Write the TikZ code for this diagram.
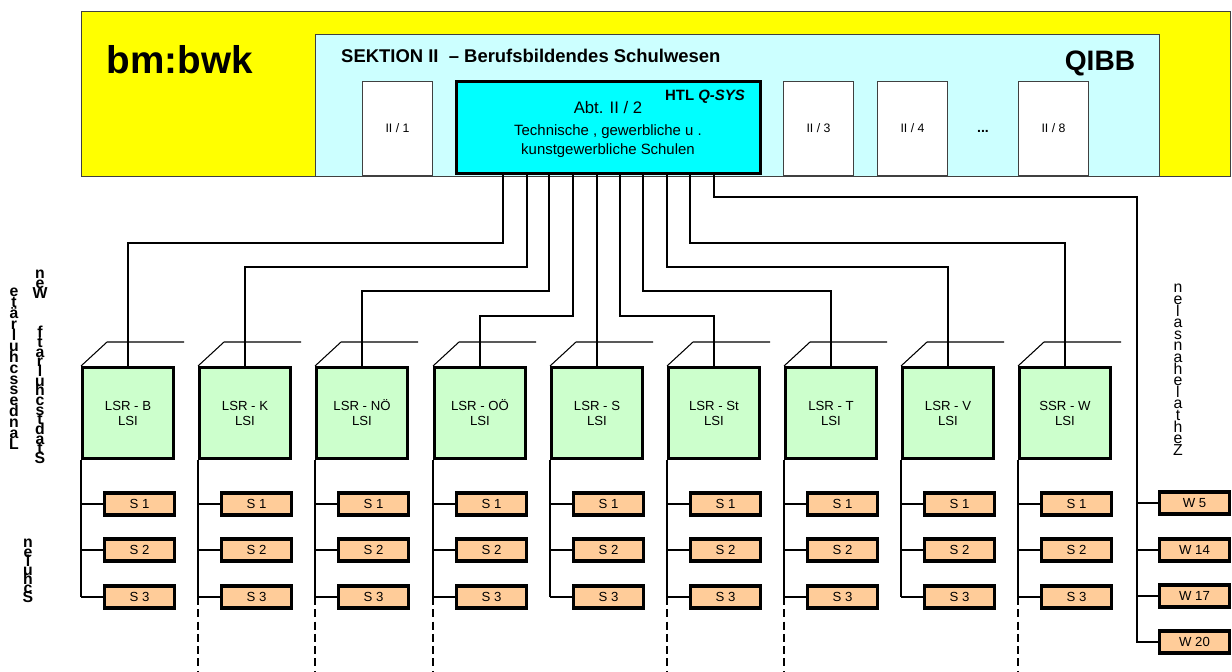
\documentclass[tikz,border=0pt]{standalone}
\usepackage{fontspec}
\setmainfont{Liberation Sans}
\definecolor{bmgelb}{RGB}{255,255,0}
\definecolor{sekhell}{RGB}{204,255,255}
\definecolor{abtcyan}{RGB}{0,255,255}
\definecolor{lsrgruen}{RGB}{204,255,204}
\definecolor{schulorange}{RGB}{255,204,153}
\setlength{\lineskiplimit}{-100pt}

\begin{document}
\begin{tikzpicture}[
    x=0.02cm, y=-0.02cm,
    wire/.style={line width=0.6pt},
    frame/.style={draw=black!75, line width=0.6pt, anchor=north west, inner sep=0pt},
    abteil/.style={frame, fill=white, minimum width=1.4cm, minimum height=1.88cm,
                   font=\fontsize{7}{8}\selectfont},
    lsr/.style={draw, fill=lsrgruen, line width=1.7pt, minimum width=1.82cm,
                minimum height=1.82cm, inner sep=0pt, align=center,
                font=\fontsize{7.5}{8.5}\selectfont},
    schule/.style={draw, fill=schulorange, line width=1.8pt, minimum width=1.4cm,
                   minimum height=0.44cm, inner sep=0pt, font=\fontsize{7.5}{9}\selectfont},
    vlabel/.style={align=center, inner sep=0pt, font=\fontsize{9}{#1}\selectfont\bfseries},
    zlabel/.style={align=center, inner sep=0pt, font=\fontsize{9}{#1}\selectfont}
]
\useasboundingbox (0,0) rectangle (1232,672);

% Ministerium und Sektion
\node[frame, fill=bmgelb, minimum width=22.98cm, minimum height=3.3cm] (bmbwk) at (81,11) {};
\node[frame, fill=sekhell, minimum width=16.88cm, minimum height=2.84cm] (sektion) at (315,34) {};
\node[font=\fontsize{22}{26}\selectfont\bfseries] (bmtitel) at (180,60) {bm:bwk};
\node[font=\fontsize{10.5}{12}\selectfont\bfseries, anchor=west] (sekttitel) at (335,56)
    {SEKTION II\ \ – Berufsbildendes Schulwesen};
\node[font=\fontsize{16}{19}\selectfont\bfseries] (qibb) at (1100,63) {QIBB};

% Abteilungen
\node[abteil] (ii1) at (362,81) {II / 1};
\node[abteil] (ii3) at (783,81) {II / 3};
\node[abteil] (ii4) at (877,81) {II / 4};
\node[font=\fontsize{8}{9}\selectfont\bfseries] (punkte) at (983,131) {...};
\node[abteil] (ii8) at (1018,81) {II / 8};

% Abt. II/2
\node[draw, fill=abtcyan, line width=1.8pt, anchor=north west, inner sep=0pt,
      minimum width=6.08cm, minimum height=1.84cm] (abt) at (455,80) {};
\node[font=\fontsize{9.5}{11}\selectfont] (abtnr) at (608,108) {Abt. II / 2};
\node[font=\fontsize{8.5}{10}\selectfont\bfseries] (htl) at (705,97) {HTL \textit{Q-SYS}};
\node[font=\fontsize{8.5}{10.8}\selectfont, align=center] (abttext) at (608,141)
    {Technische , gewerbliche u .\\kunstgewerbliche Schulen};

% Landesschulräte mit Schulen
\foreach \i/\cx/\bx/\hy/\lsrname/\strich in {
    1/128/503/243/LSR - B/0, 2/245/527/267/LSR - K/1, 3/362/549/291/LSR - NÖ/1,
    4/480/573/316/LSR - OÖ/1, 5/597/597/316/LSR - S/0, 6/714/620/316/LSR - St/1,
    7/831/643/291/LSR - T/1, 8/948/667/267/LSR - V/0, 9/1065/690/243/SSR - W/1} {
  \node[lsr] (lsr\i) at (\cx,413) {\lsrname\\LSI};
  \draw[wire] (abt.south -| \bx,0) |- (\cx,\hy) -- (lsr\i.north);
  \draw[wire] (lsr\i.north west) -- ++(26,-24) -- ++(77,0);
  \foreach \k/\sy in {1/504, 2/550, 3/597} {
    \node[schule] (s\i-\k) at (\cx+11.5,\sy) {S \k};
    \draw[wire] (lsr\i.south west |- s\i-\k.west) -- (s\i-\k.west);
  }
  \draw[wire] (lsr\i.south west) -- (lsr\i.south west |- s\i-3.west);
  \ifnum\strich=1
    \draw[wire, dash pattern=on 4.5pt off 2.5pt] (lsr\i.south west |- s\i-3.west) -- ++(0,76);
  \fi
}

% Zentrallehranstalten
\coordinate (zl) at (1137,197);
\foreach \k/\w/\wy in {1/5/503, 2/14/550, 3/17/596, 4/20/642} {
  \node[schule] (w\k) at (1194.5,\wy) {W \w};
}
\draw[wire] (abt.south -| 714,0) |- (zl) |- (w4.west);
\foreach \k in {1,2,3} \draw[wire] (zl |- w\k.west) -- (w\k.west);

% Seitentexte
\node[vlabel=6.2, anchor=north] (landes) at (14,288)
    {e\\t\\ä\\r\\l\\u\\h\\c\\s\\s\\e\\d\\n\\a\\L};
\node[vlabel=5.5, anchor=north] (stadt) at (40,270)
    {n\\e\\W\\[17pt]f\\t\\a\\r\\l\\u\\h\\c\\s\\t\\d\\a\\t\\S};
\node[vlabel=5.2, anchor=north] (schulen) at (28,539) {n\\e\\l\\u\\h\\c\\S};
\node[zlabel=6.6, anchor=north] (zentral) at (1178,284)
    {n\\e\\l\\a\\s\\n\\a\\h\\e\\l\\a\\t\\h\\e\\Z};

\end{tikzpicture}
\end{document}
